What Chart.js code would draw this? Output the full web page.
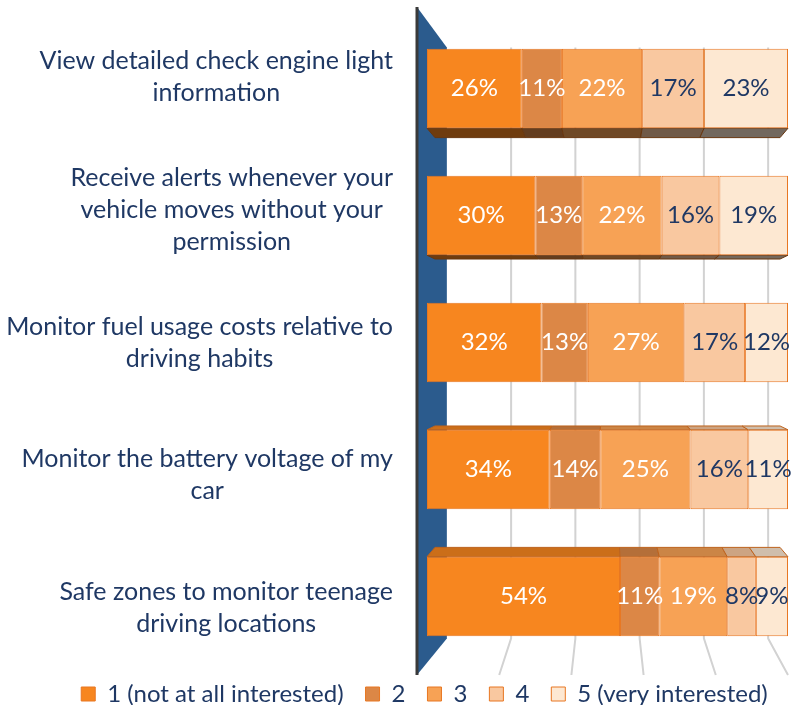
<!DOCTYPE html>
<html>
<head>
<meta charset="utf-8">
<script src="https://cdn.jsdelivr.net/npm/chart.js@4"></script>
<style>
  html, body { margin: 0; padding: 0; background: #fff; }
  #wrap { width: 809px; height: 705px; position: relative; }
</style>
</head>
<body>
<div id="wrap"><canvas id="chart"></canvas></div>
<script>
// === INTEREST IN CONNECTED-CAR FEATURES === //

// ---- DATA ---- //
const features = [
  ["View detailed check engine light", "information"],
  ["Receive alerts whenever your", "vehicle moves without your", "permission"],
  ["Monitor fuel usage costs relative to", "driving habits"],
  ["Monitor the battery voltage of my", "car"],
  ["Safe zones to monitor teenage", "driving locations"]
];
const ratingNames = ["1 (not at all interested)", "2", "3", "4", "5 (very interested)"];

const notInterested  = [26, 30, 32, 34, 54];
const rating2        = [11, 13, 13, 14, 11];
const rating3        = [22, 22, 27, 25, 19];
const rating4        = [17, 16, 17, 16, 8];
const veryInterested = [23, 19, 12, 11, 9];

const gridSteps = [20, 40, 60, 80, 100];

// ---- STYLE ---- //
const seriesValues = [notInterested, rating2, rating3, rating4, veryInterested];
const fillColors  = ["#F7861F", "#DC8746", "#F7A255", "#F9C8A0", "#FDE8D2"];
const labelColors = ["#FFFFFF", "#FFFFFF", "#FFFFFF", "#1F3864", "#1F3864"];
const NAVY = "#1F3864";
const FONT = "Lato, 'Open Sans', sans-serif";

const DEPTH = 0.11;     // shrink of the back plane
const BAR_DEPTH = 0.4;  // bars fill part of the depth
const PAD_T = 14, PAD_B = 15;

// each row is a 100% stack
const rowTotals = features.map((_, i) => seriesValues.reduce((s, arr) => s + arr[i], 0));

function shade(hex, amt) {
  const n = parseInt(hex.slice(1), 16);
  const r = Math.round(((n >> 16) & 255) * (1 - amt));
  const g = Math.round(((n >> 8) & 255) * (1 - amt));
  const b = Math.round((n & 255) * (1 - amt));
  return `rgb(${r},${g},${b})`;
}

// perspective toward the middle of the plot
function project(chart, x, y, d) {
  const a = chart.chartArea;
  const cx = (a.left + a.right) / 2, cy = (a.top + a.bottom) / 2;
  const f = 1 - DEPTH * d;
  return [cx + (x - cx) * f, cy + (y - cy) * f];
}

// ---- 3D wall, grid and bar faces ---- //
const depthPlugin = {
  id: "depth3d",
  beforeDatasetsDraw(chart) {
    const { ctx, chartArea: a, scales: { x } } = chart;
    const top = a.top - PAD_T, bottom = a.bottom + PAD_B;
    const cy = (a.top + a.bottom) / 2;
    ctx.save();

    ctx.strokeStyle = "#D2D2D2";
    ctx.lineWidth = 2;
    gridSteps.forEach(v => {
      const fx = x.getPixelForValue(v);
      const [gx, gt] = project(chart, fx, top, 1);
      const [, gb] = project(chart, fx, bottom, 1);
      ctx.beginPath();
      ctx.moveTo(gx, gt);
      ctx.lineTo(gx, gb);
      ctx.lineTo(fx, bottom);
      ctx.stroke();
    });

    const [bl, bt] = project(chart, a.left, top, 1);
    const [, bb] = project(chart, a.left, bottom, 1);
    const wx = a.left - 10;
    ctx.fillStyle = "#2B5B8D";
    ctx.beginPath();
    ctx.moveTo(wx, a.top - 18);
    ctx.lineTo(bl, bt);
    ctx.lineTo(bl, bb);
    ctx.lineTo(wx, bottom);
    ctx.closePath();
    ctx.fill();
    ctx.strokeStyle = "#3A3A3A";
    ctx.lineWidth = 3;
    ctx.beginPath();
    ctx.moveTo(wx, a.top - 18);
    ctx.lineTo(wx, bottom);
    ctx.stroke();

    chart.data.datasets.forEach((ds, di) => {
      chart.getDatasetMeta(di).data.forEach(bar => {
        const p = bar.getProps(["x", "y", "base", "height"], true);
        const bt2 = p.y - p.height / 2, bb2 = p.y + p.height / 2;
        let edge = null, amt = 0;
        if (bb2 < cy) { edge = bb2; amt = 0.55; }
        else if (bt2 > cy) { edge = bt2; amt = 0.18; }
        if (edge === null) return;
        const [l2, e2] = project(chart, p.base, edge, BAR_DEPTH);
        const [r2] = project(chart, p.x, edge, BAR_DEPTH);
        ctx.fillStyle = shade(fillColors[di], amt);
        ctx.strokeStyle = shade("#E87722", amt);
        ctx.lineWidth = 1;
        ctx.beginPath();
        ctx.moveTo(p.base, edge);
        ctx.lineTo(p.x, edge);
        ctx.lineTo(r2, e2);
        ctx.lineTo(l2, e2);
        ctx.closePath();
        ctx.fill();
        ctx.stroke();
      });
    });
    ctx.restore();
  }
};

// ---- value and category labels ---- //
const labelPlugin = {
  id: "labels",
  afterDatasetsDraw(chart) {
    const { ctx, chartArea: a, scales: { y } } = chart;
    ctx.save();
    ctx.textAlign = "center";
    ctx.textBaseline = "middle";
    ctx.font = `24px ${FONT}`;
    chart.data.datasets.forEach((ds, di) => {
      ctx.fillStyle = labelColors[di];
      chart.getDatasetMeta(di).data.forEach((bar, i) => {
        const p = bar.getProps(["x", "y", "base"], true);
        ctx.fillText(seriesValues[di][i] + "%", (p.base + p.x) / 2, p.y);
      });
    });

    ctx.font = `25px ${FONT}`;
    ctx.fillStyle = NAVY;
    const right = a.left - 34, lineH = 32;
    features.forEach((lines, i) => {
      const [, cyLabel] = project(chart, 0, y.getPixelForValue(i), -0.4);
      const w = Math.max(...lines.map(l => ctx.measureText(l).width));
      const mid = right - w / 2;
      const y0 = cyLabel - (lines.length - 1) * lineH / 2;
      lines.forEach((l, k) => ctx.fillText(l, mid, y0 + k * lineH));
    });
    ctx.restore();
  }
};

// ---- CHART ---- //
new Chart(document.getElementById("chart"), {
  type: "bar",
  data: {
    labels: features,
    datasets: seriesValues.map((vals, di) => ({
      label: ratingNames[di],
      data: vals.map((v, i) => v / rowTotals[i] * 100),
      backgroundColor: fillColors[di],
      borderColor: "#E87722",
      borderWidth: 1,
      borderSkipped: false,
      barPercentage: 0.625,
      categoryPercentage: 1
    }))
  },
  options: {
    indexAxis: "y",
    responsive: true,
    maintainAspectRatio: false,
    animation: false,
    layout: { padding: { left: 40, right: 0, top: 25, bottom: -11 } },
    scales: {
      x: { stacked: true, min: 0, max: 100, display: false },
      y: {
        stacked: true,
        grid: { display: false },
        border: { display: false },
        ticks: { display: false },
        afterFit(s) { s.width = 387; }
      },
      yRight: {
        type: "category",
        position: "right",
        grid: { display: false },
        border: { display: false },
        ticks: { display: false },
        afterFit(s) { s.width = 21; }
      }
    },
    plugins: {
      legend: {
        position: "bottom",
        labels: {
          font: { family: FONT, size: 24 },
          color: NAVY,
          boxWidth: 14,
          boxHeight: 14,
          padding: 22
        }
      },
      tooltip: { enabled: false }
    }
  },
  plugins: [depthPlugin, labelPlugin]
});
</script>
</body>
</html>
